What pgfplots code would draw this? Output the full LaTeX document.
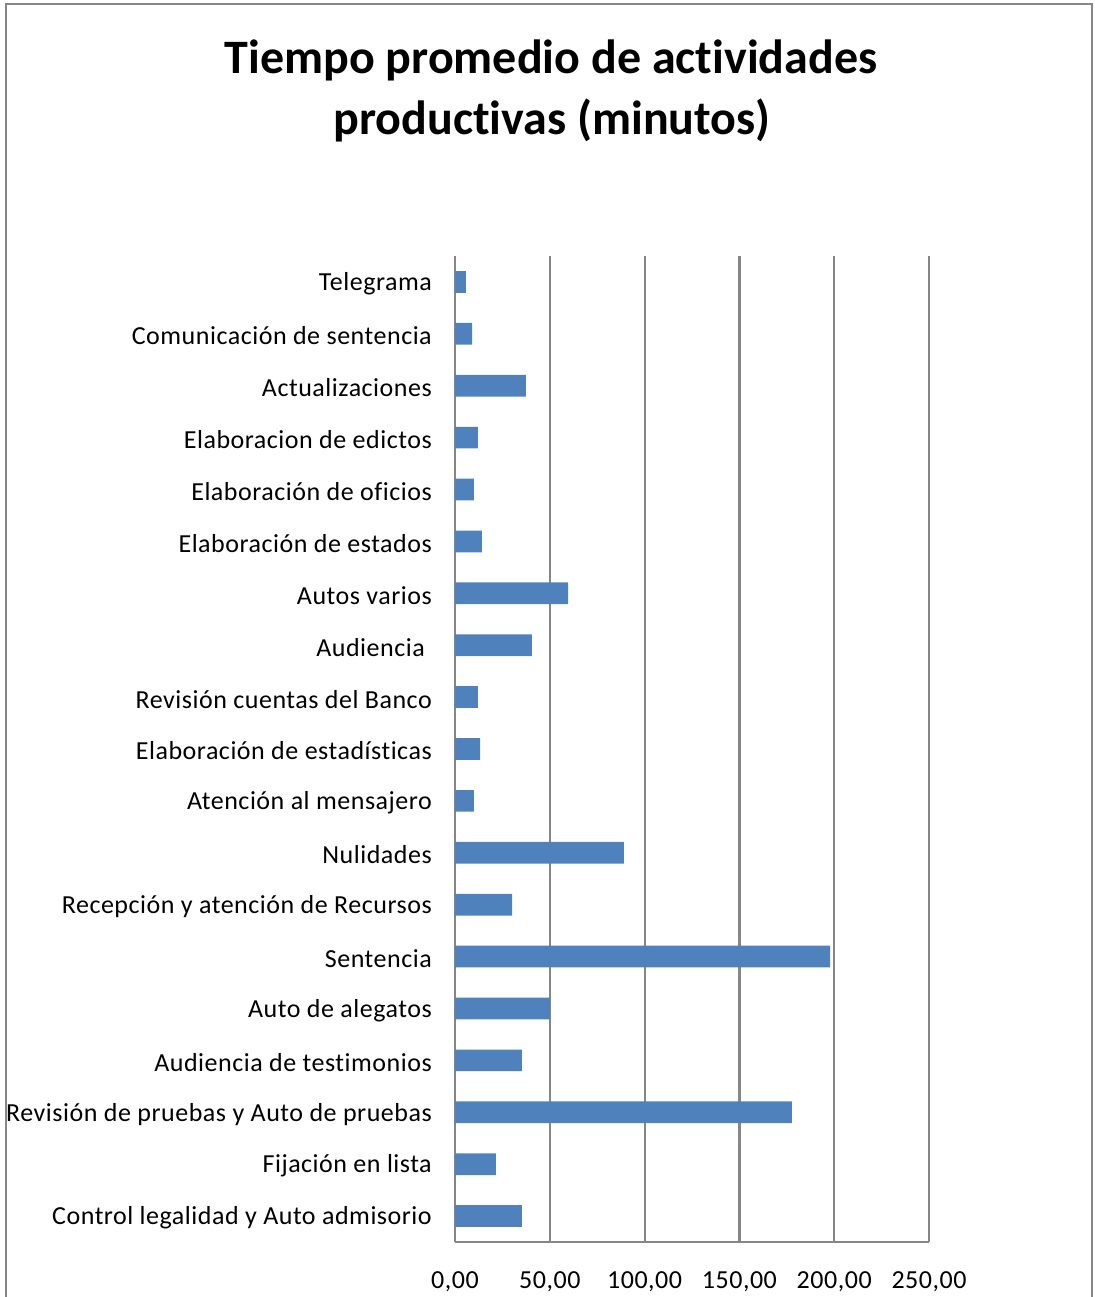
\documentclass[border=0pt]{standalone}
\usepackage{pgfplots}
\pgfplotsset{compat=1.18}
\usepackage{fontspec}
\setmainfont{Carlito}[LetterSpace=2, Ligatures=NoCommon]
\newfontfamily\titlefont{Carlito}[BoldFont=* Bold, Ligatures=NoCommon]
\definecolor{barblue}{HTML}{4F81BD}
\definecolor{linegray}{HTML}{868686}

\begin{document}
\begin{tikzpicture}
  \useasboundingbox (0pt,0pt) rectangle (1094pt,1297pt);
  % chart frame (open at the bottom)
  \draw[linegray, line width=2pt] (6pt,-5pt) -- (6pt,1293pt) -- (1092pt,1293pt) -- (1092pt,-5pt);
  % title
  \node[anchor=base, font=\titlefont\bfseries\fontsize{48}{58}\selectfont] at (551pt,1223pt) {Tiempo promedio de actividades};
  \node[anchor=base, font=\titlefont\bfseries\fontsize{48}{58}\selectfont] at (552pt,1162pt) {productivas (minutos)};

  \begin{axis}[
    at={(455pt,55pt)}, anchor=south west,
    scale only axis, width=474pt, height=986pt,
    xbar, bar width=21.7pt,
    xmin=0, xmax=250, ymin=-0.5, ymax=18.5,
    xtick={0,50,100,150,200,250},
    ytick={0,...,18},
    yticklabels={
      Control legalidad y Auto admisorio,
      Fijación en lista,
      Revisión de pruebas y Auto de pruebas,
      Audiencia de testimonios,
      Auto de alegatos,
      Sentencia,
      Recepción y atención de Recursos,
      Nulidades,
      Atención al mensajero,
      Elaboración de estadísticas,
      Revisión cuentas del Banco,
      Audiencia\kern7pt,
      Autos varios,
      Elaboración de estados,
      Elaboración de oficios,
      Elaboracion de edictos,
      Actualizaciones,
      Comunicación de sentencia,
      Telegrama},
    separate axis lines,
    axis x line*=bottom, axis y line*=left,
    axis line style={draw=linegray, line width=2.2pt, -},
    xmajorgrids,
    major grid style={draw=linegray, line width=2.2pt},
    major tick length=0pt,
    tick style={draw=none},
    tick label style={font=\fontsize{26}{30}\selectfont},
    yticklabel style={anchor=east, inner sep=0pt, xshift=-23pt, yshift=-2pt},
    xticklabel style={anchor=base, inner sep=0pt, yshift=-46pt},
    /pgf/number format/.cd, fixed, fixed zerofill, precision=2, use comma, assume math mode=true,
  ]
    \addplot[fill=barblue, draw=none] coordinates {
      (35.3,0) (21.6,1) (177.7,2) (35.3,3) (50.1,4) (197.8,5)
      (30.1,6) (89.1,7) (10.0,8) (13.2,9) (12.1,10) (40.6,11)
      (59.6,12) (14.2,13) (10.0,14) (12.1,15) (37.4,16) (9.0,17) (5.8,18)
    };
  \end{axis}
\end{tikzpicture}
\end{document}
